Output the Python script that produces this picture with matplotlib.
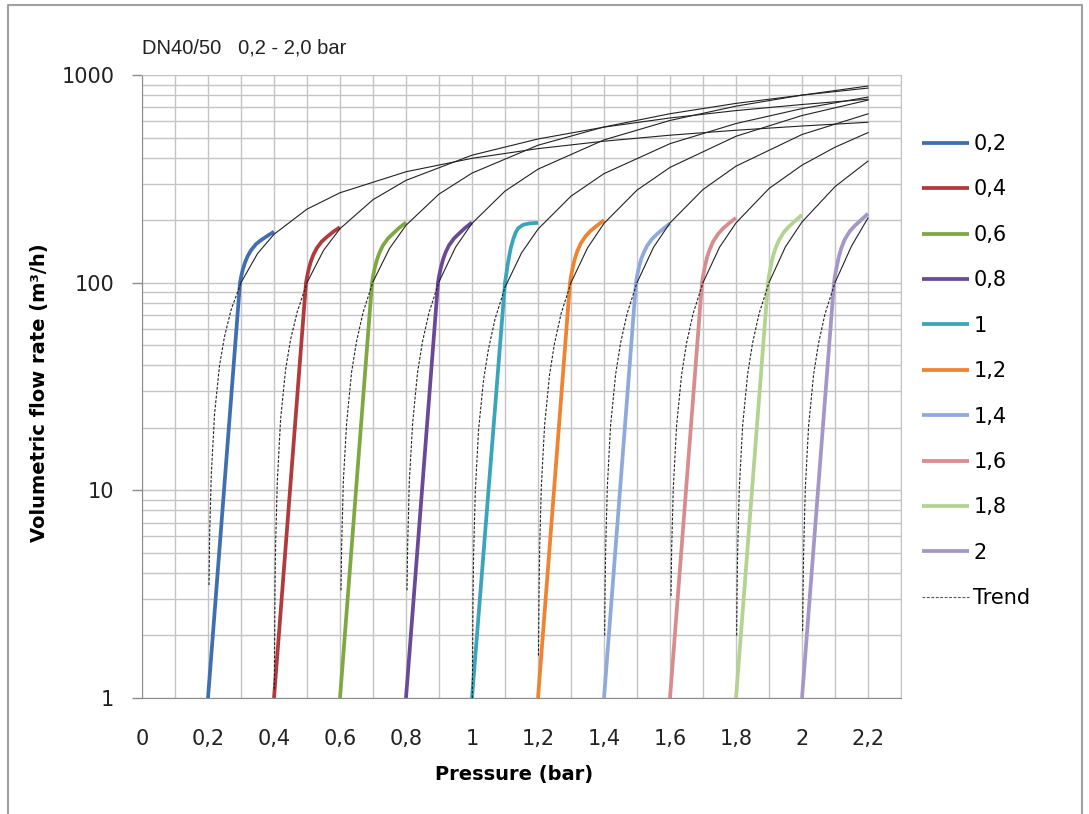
import numpy as np
import matplotlib.pyplot as plt
from matplotlib.lines import Line2D
from matplotlib.ticker import FixedLocator, LogLocator, NullFormatter

# series names and colours
labels = ['0,2', '0,4', '0,6', '0,8', '1', '1,2', '1,4', '1,6', '1,8', '2']
colors = ['#3F6FB0', '#B23A3C', '#7FA843', '#6A4A98', '#3AA4BA',
          '#F0832F', '#8FAADA', '#D98C8E', '#B4D290', '#A596C8']

# measured curves (pressure bar, flow m3/h)
m02_x = [0.2, 0.297, 0.300, 0.305, 0.312, 0.32, 0.33, 0.345, 0.36, 0.38, 0.4]
m02_y = [1, 100, 106, 115, 125, 134, 143, 153, 160, 168, 176]
m04_x = [0.4, 0.497, 0.500, 0.505, 0.512, 0.52, 0.53, 0.545, 0.56, 0.58, 0.6]
m04_y = [1, 100, 106, 116, 127, 137, 147, 158, 166, 176, 185]
m06_x = [0.6, 0.697, 0.700, 0.705, 0.712, 0.72, 0.73, 0.745, 0.76, 0.78, 0.8]
m06_y = [1, 100, 107, 117, 129, 140, 151, 163, 172, 184, 195]
m08_x = [0.8, 0.897, 0.900, 0.905, 0.912, 0.92, 0.93, 0.945, 0.96, 0.98, 1.0]
m08_y = [1, 100, 107, 117, 129, 140, 151, 163, 172, 184, 195]
m10_x = [1.0, 1.1, 1.104, 1.108, 1.113, 1.118, 1.125, 1.132, 1.14, 1.155,
         1.175, 1.2]
m10_y = [1, 100, 110, 122, 135, 148, 162, 174, 183, 190, 193, 194]
m12_x = [1.2, 1.297, 1.300, 1.305, 1.312, 1.32, 1.33, 1.345, 1.36, 1.38, 1.4]
m12_y = [1, 100, 107, 118, 131, 143, 155, 168, 178, 189, 200]
m14_x = [1.4, 1.497, 1.500, 1.505, 1.512, 1.52, 1.53, 1.545, 1.56, 1.58, 1.6]
m14_y = [1, 100, 107, 117, 129, 139, 150, 162, 171, 182, 193]
m16_x = [1.6, 1.697, 1.700, 1.705, 1.712, 1.72, 1.73, 1.745, 1.76, 1.78, 1.8]
m16_y = [1, 100, 107, 118, 132, 144, 157, 171, 182, 194, 205]
m18_x = [1.8, 1.897, 1.900, 1.905, 1.912, 1.92, 1.93, 1.945, 1.96, 1.98, 2.0]
m18_y = [1, 100, 108, 119, 134, 147, 160, 175, 186, 199, 212]
m20_x = [2.0, 2.097, 2.100, 2.105, 2.112, 2.12, 2.13, 2.145, 2.16, 2.18, 2.2]
m20_y = [1, 100, 108, 119, 134, 148, 162, 177, 188, 201, 215]

# trend curves
t02_x = [0.203, 0.205, 0.21, 0.22, 0.235, 0.25, 0.27, 0.3, 0.35, 0.4, 0.5, 0.6,
         0.8, 1.0, 1.2, 1.4, 1.6, 1.8, 2.0, 2.2]
t02_y = [3.5, 6.1, 12, 23.5, 40, 55, 74, 100, 138, 171, 226, 271,
         342, 397, 442, 480, 513, 542, 568, 592]
t04_x = [0.401, 0.403, 0.405, 0.41, 0.42, 0.435, 0.45, 0.47, 0.5, 0.55, 0.6,
         0.7, 0.8, 1.0, 1.2, 1.4, 1.6, 1.8, 2.0, 2.2]
t04_y = [1.1, 3.4, 5.6, 11, 22, 38, 53, 72, 100, 143, 182,
         251, 311, 411, 492, 561, 621, 674, 721, 765]
t06_x = [0.603, 0.605, 0.61, 0.62, 0.635, 0.65, 0.67, 0.7, 0.75, 0.8, 0.9,
         1.0, 1.2, 1.4, 1.6, 1.8, 2.0, 2.2]
t06_y = [3.3, 5.4, 11, 21, 37, 52, 72, 101, 146, 189, 267,
         337, 459, 562, 651, 730, 800, 865]
t08_x = [0.803, 0.805, 0.81, 0.82, 0.835, 0.85, 0.87, 0.9, 0.95, 1.0, 1.1,
         1.2, 1.4, 1.6, 1.8, 2.0, 2.2]
t08_y = [3.3, 5.4, 11, 21, 37, 52, 72, 101, 148, 193, 276,
         352, 487, 604, 708, 800, 885]
t10_x = [1.001, 1.003, 1.005, 1.01, 1.02, 1.035, 1.05, 1.07, 1.1, 1.15, 1.2,
         1.3, 1.4, 1.6, 1.8, 2.0, 2.2]
t10_y = [1.0, 3.0, 5.0, 9.9, 19.7, 34, 48, 67, 95, 139, 181,
         261, 335, 467, 584, 689, 783]
t12_x = [1.2015, 1.203, 1.205, 1.21, 1.22, 1.235, 1.25, 1.27, 1.3, 1.35, 1.4,
         1.5, 1.6, 1.8, 2.0, 2.2]
t12_y = [1.6, 3.1, 5.2, 10.4, 20.6, 36, 51, 71, 100, 147, 193,
         279, 359, 507, 638, 757]
t14_x = [1.402, 1.403, 1.405, 1.41, 1.42, 1.435, 1.45, 1.47, 1.5, 1.55, 1.6,
         1.7, 1.8, 2.0, 2.2]
t14_y = [2.0, 3.1, 5.2, 10.3, 20.6, 36, 51, 71, 100, 148, 194,
         281, 364, 517, 650]
t16_x = [1.603, 1.605, 1.61, 1.62, 1.635, 1.65, 1.67, 1.7, 1.75, 1.8, 1.9,
         2.0, 2.1, 2.2]
t16_y = [3.1, 5.2, 10.3, 20.5, 36, 51, 71, 100, 148, 194, 284,
         368, 449, 528]
t18_x = [1.802, 1.803, 1.805, 1.81, 1.82, 1.835, 1.85, 1.87, 1.9, 1.95, 2.0,
         2.1, 2.2]
t18_y = [2.0, 3.1, 5.1, 10.2, 20.4, 36, 51, 71, 100, 149, 196,
         290, 385]
t20_x = [2.002, 2.003, 2.005, 2.01, 2.02, 2.035, 2.05, 2.07, 2.1, 2.15, 2.2]
t20_y = [2.1, 3.1, 5.1, 10.2, 20.4, 36, 51, 71, 100, 150, 205]

measured = [(m02_x, m02_y), (m04_x, m04_y), (m06_x, m06_y), (m08_x, m08_y),
            (m10_x, m10_y), (m12_x, m12_y), (m14_x, m14_y), (m16_x, m16_y),
            (m18_x, m18_y), (m20_x, m20_y)]
trends = [(t02_x, t02_y), (t04_x, t04_y), (t06_x, t06_y), (t08_x, t08_y),
          (t10_x, t10_y), (t12_x, t12_y), (t14_x, t14_y), (t16_x, t16_y),
          (t18_x, t18_y), (t20_x, t20_y)]

xticks = [0, 0.2, 0.4, 0.6, 0.8, 1.0, 1.2, 1.4, 1.6, 1.8, 2.0, 2.2]
xticklabels = ['0', '0,2', '0,4', '0,6', '0,8', '1', '1,2', '1,4', '1,6',
               '1,8', '2', '2,2']
yticks = [1, 10, 100, 1000]
yticklabels = ['1', '10', '100', '1000']

grid_col = '#C4C4C4'
axis_col = '#8C8C8C'

fig = plt.figure(figsize=(10.89, 8.14), dpi=100)
ax = fig.add_axes([142 / 1089, 1 - 698 / 814, 759 / 1089, 623 / 814])

for (mx, my), col, lab in zip(measured, colors, labels):
    ax.plot(mx, my, color=col, lw=2.7, label=lab, zorder=3,
            solid_capstyle='butt', solid_joinstyle='round')

for tx, ty in trends:
    tx = np.array(tx)
    ty = np.array(ty)
    low = ty <= 101
    ax.plot(tx[low], ty[low], color='#222222', lw=0.8, ls=(0, (2.5, 1.5)),
            zorder=4)
    high = ty >= 95
    ax.plot(tx[high], ty[high], color='#222222', lw=0.8, zorder=4)

ax.set_yscale('log')
ax.set_xlim(0, 2.3)
ax.set_ylim(1, 1000)

ax.xaxis.set_major_locator(FixedLocator(xticks))
ax.set_xticklabels(xticklabels)
ax.xaxis.set_minor_locator(FixedLocator([0.1, 0.3, 0.5, 0.7, 0.9, 1.1, 1.3,
                                         1.5, 1.7, 1.9, 2.1, 2.3]))
ax.yaxis.set_major_locator(FixedLocator(yticks))
ax.set_yticklabels(yticklabels)
ax.yaxis.set_minor_locator(LogLocator(base=10, subs=range(2, 10)))
ax.yaxis.set_minor_formatter(NullFormatter())

ax.grid(True, which='both', color=grid_col, lw=1.0)
ax.set_axisbelow(True)
ax.tick_params(axis='x', which='both', length=0, pad=22, labelsize=15,
               labelcolor='#222222')
ax.tick_params(axis='y', which='major', length=7, width=1, color=axis_col,
               pad=13, labelsize=15, labelcolor='#222222')
ax.tick_params(axis='y', which='minor', length=0)
for side in ['top', 'right']:
    ax.spines[side].set_color(grid_col)
for side in ['left', 'bottom']:
    ax.spines[side].set_color(axis_col)

ax.set_xlabel('Pressure (bar)', fontsize=14, fontweight='bold')
ax.xaxis.set_label_coords(0.49, -0.108)
ax.set_ylabel('Volumetric flow rate (m³/h)', fontsize=14, fontweight='bold')
ax.yaxis.set_label_coords(-0.122, 0.49)

fig.text(142 / 1089, 1 - 53 / 814, 'DN40/50   0,2 - 2,0 bar',
         family='Liberation Sans', fontsize=14.5, va='baseline',
         color='#222222')

handles, labs = ax.get_legend_handles_labels()
handles.append(Line2D([], [], color='#555555', lw=0.8, ls=(0, (2.5, 1.5))))
labs.append('Trend')
fig.legend(handles, labs, loc='upper left',
           bbox_to_anchor=(922 / 1089, 1 - 134 / 814), frameon=False,
           fontsize=15, handlelength=2.25, handletextpad=0.22,
           labelspacing=1.22, borderpad=0, borderaxespad=0)

# grey frame round the chart
frame = dict(color='#A0A0A0', lw=1.5, transform=fig.transFigure)
fig.add_artist(Line2D([8 / 1089, 8 / 1089, 1082 / 1089, 1082 / 1089],
                      [0, 1 - 5 / 814, 1 - 5 / 814, 0], **frame))

fig.savefig('out.png', dpi=100)
